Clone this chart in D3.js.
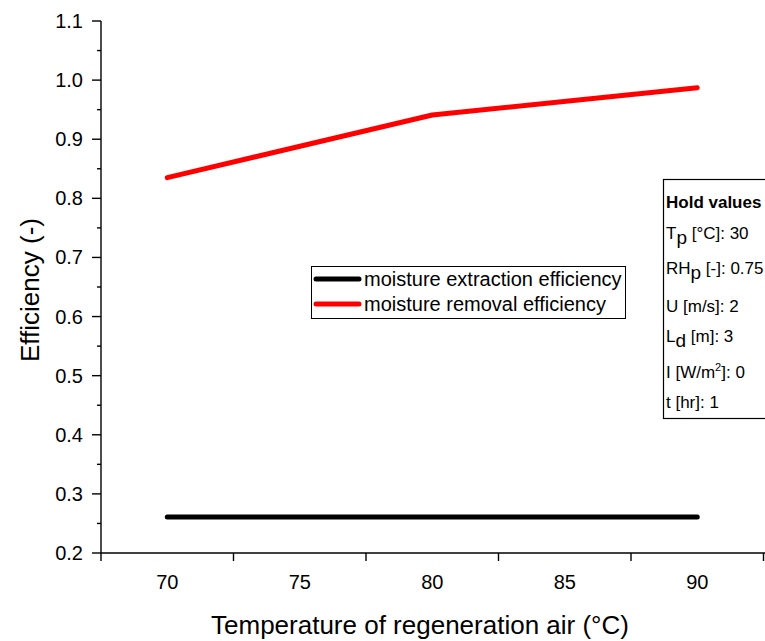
<!DOCTYPE html>
<html>
<head>
<meta charset="utf-8">
<script src="https://cdn.jsdelivr.net/npm/d3@7/dist/d3.min.js"></script>
<style>
  html, body { margin: 0; padding: 0; background: #fff; }
  svg { display: block; font-family: "Liberation Sans", Arial, sans-serif; }
</style>
</head>
<body>
<svg id="chart" width="765" height="641"></svg>
<script>
// Regeneration air temperature (°C)
const temperatures = [70, 80, 90];
// Efficiency series
const extractionEfficiency = [0.261, 0.261, 0.261];
const removalEfficiency = [0.835, 0.941, 0.987];
const seriesNames = ["moisture extraction efficiency", "moisture removal efficiency"];
const seriesColors = ["#000000", "#ff0000"];
// Axis ticks
const xLabelTicks = [70, 75, 80, 85, 90];
const xMarkTicks = [67.5, 72.5, 77.5, 82.5, 87.5, 92.5];
const yMajorTicks = [0.2, 0.3, 0.4, 0.5, 0.6, 0.7, 0.8, 0.9, 1.0, 1.1];
const yMinorTicks = [0.25, 0.35, 0.45, 0.55, 0.65, 0.75, 0.85, 0.95, 1.05];
// Fixed inputs panel
const holdRows = [
  { base: "T", sub: "p", rest: " [°C]: 30" },
  { base: "RH", sub: "p", rest: " [-]: 0.75" },
  { base: "U [m/s]: 2" },
  { base: "L", sub: "d", rest: " [m]: 3" },
  { base: "I [W/m", sup: "2", rest: "]: 0" },
  { base: "t [hr]: 1" }
];

const svg = d3.select("#chart");
const x = d3.scaleLinear().domain([67.5, 92.5]).range([101, 763.5]);
const y = d3.scaleLinear().domain([0.2, 1.1]).range([553, 21]);
const axisY0 = 553, axisX0 = 101;

// X axis: line, tick marks between labels, labels
const gx = svg.append("g");
gx.append("line").attr("x1", axisX0).attr("x2", 765).attr("y1", axisY0).attr("y2", axisY0)
  .attr("stroke", "#000").attr("stroke-width", 1.4);
gx.selectAll("line.tk").data(xMarkTicks).join("line").attr("class", "tk")
  .attr("x1", d => x(d)).attr("x2", d => x(d)).attr("y1", axisY0).attr("y2", axisY0 + 8)
  .attr("stroke", "#000").attr("stroke-width", 1.4);
gx.selectAll("text").data(xLabelTicks).join("text")
  .attr("x", d => x(d)).attr("y", 589).attr("text-anchor", "middle")
  .attr("font-size", 20).text(d => d);

// Y axis
const gy = svg.append("g");
gy.append("line").attr("x1", axisX0).attr("x2", axisX0).attr("y1", y(1.1)).attr("y2", axisY0)
  .attr("stroke", "#000").attr("stroke-width", 1.4);
gy.selectAll("line.mj").data(yMajorTicks).join("line").attr("class", "mj")
  .attr("x1", axisX0 - 9).attr("x2", axisX0).attr("y1", d => y(d)).attr("y2", d => y(d))
  .attr("stroke", "#000").attr("stroke-width", 1.4);
gy.selectAll("line.mn").data(yMinorTicks).join("line").attr("class", "mn")
  .attr("x1", axisX0 - 4).attr("x2", axisX0).attr("y1", d => y(d)).attr("y2", d => y(d))
  .attr("stroke", "#000").attr("stroke-width", 1.4);
gy.selectAll("text").data(yMajorTicks).join("text")
  .attr("x", 83).attr("y", d => y(d) + 7).attr("text-anchor", "end")
  .attr("font-size", 20).text(d => d.toFixed(1));

// Axis titles
svg.append("text").attr("x", 420).attr("y", 634).attr("text-anchor", "middle")
  .attr("font-size", 26).text("Temperature of regeneration air (°C)");
svg.append("text").attr("transform", "translate(39,290) rotate(-90)")
  .attr("text-anchor", "middle").attr("font-size", 26).text("Efficiency (-)");

// Series lines
const line = d3.line().x(d => x(d[0])).y(d => y(d[1]));
[extractionEfficiency, removalEfficiency].forEach((vals, i) => {
  svg.append("path")
    .datum(temperatures.map((t, j) => [t, vals[j]]))
    .attr("d", line).attr("fill", "none")
    .attr("stroke", seriesColors[i]).attr("stroke-width", 5)
    .attr("stroke-linecap", "round").attr("stroke-linejoin", "round");
});

// Legend
const lg = svg.append("g");
lg.append("rect").attr("x", 311.5).attr("y", 266.5).attr("width", 314).attr("height", 52)
  .attr("fill", "#fff").attr("stroke", "#000").attr("stroke-width", 1);
seriesNames.forEach((name, i) => {
  const cy = 279 + i * 25;
  lg.append("line").attr("x1", 316).attr("x2", 359).attr("y1", cy).attr("y2", cy)
    .attr("stroke", seriesColors[i]).attr("stroke-width", 5).attr("stroke-linecap", "round");
  lg.append("text").attr("x", 364).attr("y", cy + 7).attr("font-size", 20).text(name);
});

// Hold values panel
const hp = svg.append("g");
hp.append("rect").attr("x", 663.5).attr("y", 179.5).attr("width", 110).attr("height", 239)
  .attr("fill", "#fff").attr("stroke", "#000").attr("stroke-width", 1.2);
hp.append("text").attr("x", 666).attr("y", 208).attr("font-size", 17)
  .attr("font-weight", "bold").text("Hold values");
const rowY = [239, 274, 312, 342, 378, 408];
holdRows.forEach((r, i) => {
  const t = hp.append("text").attr("x", 666).attr("y", rowY[i]).attr("font-size", 17);
  t.append("tspan").text(r.base);
  if (r.sub) {
    t.append("tspan").attr("dy", 5).attr("font-size", 19).text(r.sub);
    t.append("tspan").attr("dy", -5).text(r.rest);
  } else if (r.sup) {
    t.append("tspan").attr("dy", -7).attr("font-size", 11).text(r.sup);
    t.append("tspan").attr("dy", 7).text(r.rest);
  }
});
</script>
</body>
</html>
